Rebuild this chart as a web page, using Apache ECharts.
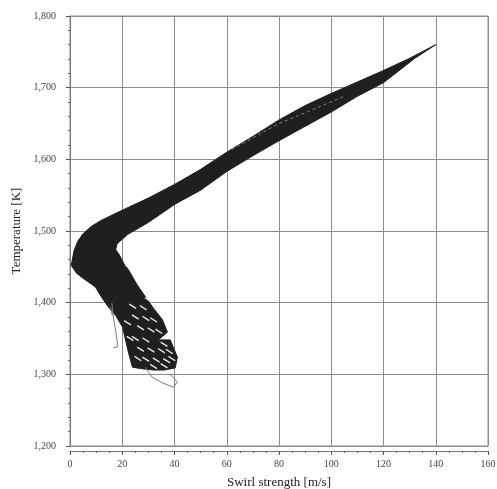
<!DOCTYPE html>
<html>
<head>
<meta charset="utf-8">
<script src="https://cdn.jsdelivr.net/npm/echarts@6/dist/echarts.min.js"></script>
<style>html,body{margin:0;padding:0;background:#fff}#c{width:497px;height:489px}</style>
</head>
<body>
<div id="c"></div>
<script>
// Axis settings
var xTicks = [0, 20, 40, 60, 80, 100, 120, 140, 160];
var yTicks = [1200, 1300, 1400, 1500, 1600, 1700, 1800];

// Dense band outline (upper arm, elbow and the whole lower arm / fan)
var bandX = [0.5, 1.5, 3, 5, 8, 12, 20, 30, 40, 50, 60, 70, 80, 90, 100, 110, 120, 130, 140,
             132, 120, 110, 100, 90, 80, 70, 60, 50, 40, 30, 22, 18, 17.5, 19, 21, 22.4, 25.5, 28.9, 32, 35.4, 37.3,
             33.8, 38.4, 41.1, 40.3, 36, 31.9, 27, 23.9, 22.4, 20.1, 17.5, 14.7, 12, 9.7, 5, 2.5, 0.5];
var bandY = [1452, 1472, 1486, 1496, 1506, 1515, 1529, 1546, 1565, 1586, 1610, 1632, 1655, 1675, 1692, 1708, 1724, 1741, 1760,
             1741, 1707, 1688, 1666, 1646, 1626, 1605, 1583, 1557, 1537, 1512, 1495, 1482, 1474, 1466, 1452, 1446, 1426, 1408, 1392, 1376, 1359,
             1348, 1348, 1324, 1309, 1306, 1306, 1308, 1310, 1330, 1366, 1382, 1394, 1408, 1422, 1434, 1441, 1452];

// White gaps between the fan trajectories (centre of each gap)
var slitX = [24, 28, 25, 29, 32, 27, 31, 34, 25, 29, 27, 31, 35, 38, 29, 33, 37, 32, 36, 22, 30, 23, 26, 36, 39];
var slitY = [1395, 1393, 1380, 1378, 1376, 1365, 1362, 1360, 1350, 1348, 1335, 1334, 1333, 1332, 1321, 1320, 1319, 1311, 1312, 1372, 1404, 1350, 1322, 1342, 1322];

// Thin grey stray trajectories
var tailX = [16, 16.6, 17.5, 18.1, 18.1, 16.6];
var tailY = [1400, 1380, 1360, 1345, 1338, 1337];
var tail2X = [15.5, 16.2];
var tail2Y = [1394, 1382];
var loopX = [28.9, 30, 31.5, 35.4, 39.6, 41, 39.6, 38.4];
var loopY = [1310, 1303, 1296, 1288, 1282, 1289, 1295, 1300];

// Light streak inside the upper arm
var streakX = [62, 70, 80, 92, 105];
var streakY = [1614, 1630, 1650, 1668, 1688];

function pts(xs, ys) { return xs.map(function (x, i) { return [x, ys[i]]; }); }

var slits = slitX.map(function (x, i) {
  return { coords: [[x - 1.3, slitY[i] + 3], [x + 1.3, slitY[i] - 3]] };
});

var serif = '"Liberation Serif", "DejaVu Serif", serif';
var chart = echarts.init(document.getElementById('c'));
chart.setOption({
  animation: false,
  backgroundColor: '#fff',
  grid: { left: 70, right: 9, top: 16, bottom: 43, show: true, borderColor: '#8c8c8c', borderWidth: 1,
          containLabel: false, outerBoundsMode: 'none' },
  xAxis: {
    type: 'value', min: xTicks[0], max: xTicks[xTicks.length - 1], interval: 20, offset: 5,
    name: 'Swirl strength [m/s]', nameLocation: 'middle', nameGap: 25,
    nameTextStyle: { fontFamily: serif, fontSize: 13, color: '#222' },
    axisLine: { show: true, lineStyle: { color: '#777' } },
    axisTick: { show: true, length: 4, lineStyle: { color: '#555' } },
    minorTick: { show: true, splitNumber: 4, length: 2, lineStyle: { color: '#666' } },
    axisLabel: { fontFamily: serif, fontSize: 10, color: '#444', margin: 8 },
    splitLine: { show: true, lineStyle: { color: '#8c8c8c', width: 1 } }
  },
  yAxis: {
    type: 'value', min: yTicks[0], max: yTicks[yTicks.length - 1], interval: 100, offset: 5,
    name: 'Temperature [K]', nameLocation: 'middle', nameGap: 41, nameRotate: 90,
    nameTextStyle: { fontFamily: serif, fontSize: 13, color: '#222' },
    axisLine: { show: true, lineStyle: { color: '#777' } },
    axisTick: { show: true, length: 4, lineStyle: { color: '#555' } },
    minorTick: { show: true, splitNumber: 5, length: 2, lineStyle: { color: '#666' } },
    axisLabel: {
      fontFamily: serif, fontSize: 10, color: '#444', margin: 9,
      formatter: function (v) { return echarts.format.addCommas(v); }
    },
    splitLine: { show: true, lineStyle: { color: '#8c8c8c', width: 1 } }
  },
  series: [
    {
      type: 'custom', data: [0], clip: true,
      renderItem: function (params, api) {
        var p = pts(bandX, bandY).map(function (d) { return api.coord(d); });
        return { type: 'polygon', shape: { points: p }, style: { fill: '#1f1f1f', stroke: '#1f1f1f', lineWidth: 1 } };
      }
    },
    {
      type: 'lines', coordinateSystem: 'cartesian2d', polyline: false,
      data: slits, lineStyle: { color: '#e6e6e6', width: 1.4, opacity: 1 }
    },
    {
      type: 'lines', coordinateSystem: 'cartesian2d', polyline: true,
      data: [{ coords: pts(tailX, tailY) }, { coords: pts(tail2X, tail2Y) }, { coords: pts(loopX, loopY) }],
      lineStyle: { color: '#7a7a7a', width: 1, opacity: 1 }
    },
    {
      type: 'lines', coordinateSystem: 'cartesian2d', polyline: true,
      data: [{ coords: pts(streakX, streakY) }],
      lineStyle: { color: '#9a9a9a', width: 0.8, type: [3, 3], opacity: 1 }
    }
  ]
});
</script>
</body>
</html>
